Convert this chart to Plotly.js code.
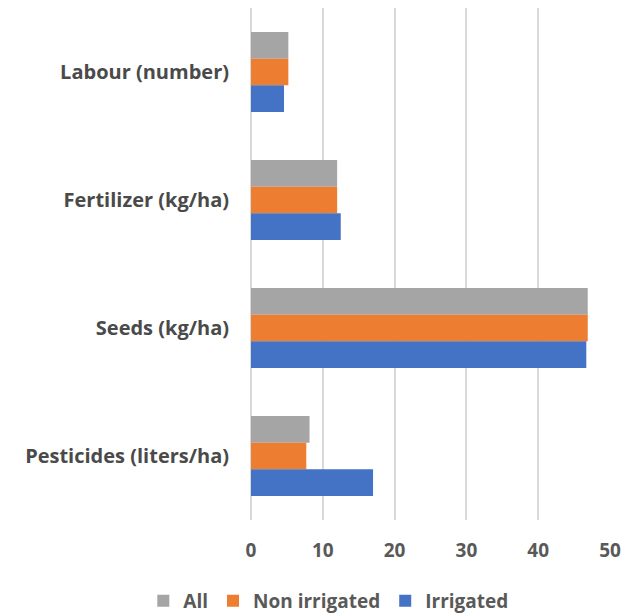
<!DOCTYPE html>
<html>
<head>
<meta charset="utf-8">
<script src="https://cdn.plot.ly/plotly-3.0.1.min.js"></script>
<style>html,body{margin:0;padding:0;background:#fff;}#chart{width:626px;height:615px;}</style>
</head>
<body>
<div id="chart"></div>
<script>
const categories = ["Labour (number)", "Fertilizer (kg/ha)", "Seeds (kg/ha)", "Pesticides (liters/ha)"];
const allValues = [5.2, 12.0, 46.9, 8.15];
const nonIrrigatedValues = [5.2, 12.0, 46.9, 7.7];
const irrigatedValues = [4.6, 12.5, 46.7, 17.0];
const xTicks = [0, 10, 20, 30, 40, 50];

const fontFam = "Open Sans, sans-serif";
const data = [
  {type: "bar", orientation: "h", name: "All", y: categories, x: allValues, marker: {color: "#A5A5A5"}},
  {type: "bar", orientation: "h", name: "Non irrigated", y: categories, x: nonIrrigatedValues, marker: {color: "#ED7D31"}},
  {type: "bar", orientation: "h", name: "Irrigated", y: categories, x: irrigatedValues, marker: {color: "#4472C4"}}
];
const layout = {
  width: 626, height: 615,
  margin: {l: 251, r: 16, t: 8, b: 95, autoexpand: false},
  paper_bgcolor: "#fff", plot_bgcolor: "#fff",
  barmode: "group", bargap: 0.375, bargroupgap: 0,
  showlegend: true,
  legend: {orientation: "h", xref: "paper", yref: "paper", x: -0.30, xanchor: "left", y: -0.158, yanchor: "middle",
           font: {family: fontFam, size: 19, color: "#595959", weight: "bold"}, traceorder: "normal"},
  xaxis: {range: [0, 50], tickvals: xTicks, ticktext: xTicks.map(String), showgrid: true, gridcolor: "#D9D9D9", gridwidth: 2,
          zeroline: true, zerolinecolor: "#D9D9D9", zerolinewidth: 2, showline: false, ticks: "",
          tickfont: {family: fontFam, size: 19, color: "#595959", weight: "bold"}, ticklabelstandoff: 17},
  yaxis: {autorange: "reversed", showgrid: false, zeroline: false, showline: false, ticks: "", ticklabelstandoff: 21,
          tickfont: {family: fontFam, size: 20, color: "#4a4a4a", weight: "bold"}}
};
Plotly.newPlot("chart", data, layout, {displayModeBar: false, staticPlot: true});
</script>
</body>
</html>
